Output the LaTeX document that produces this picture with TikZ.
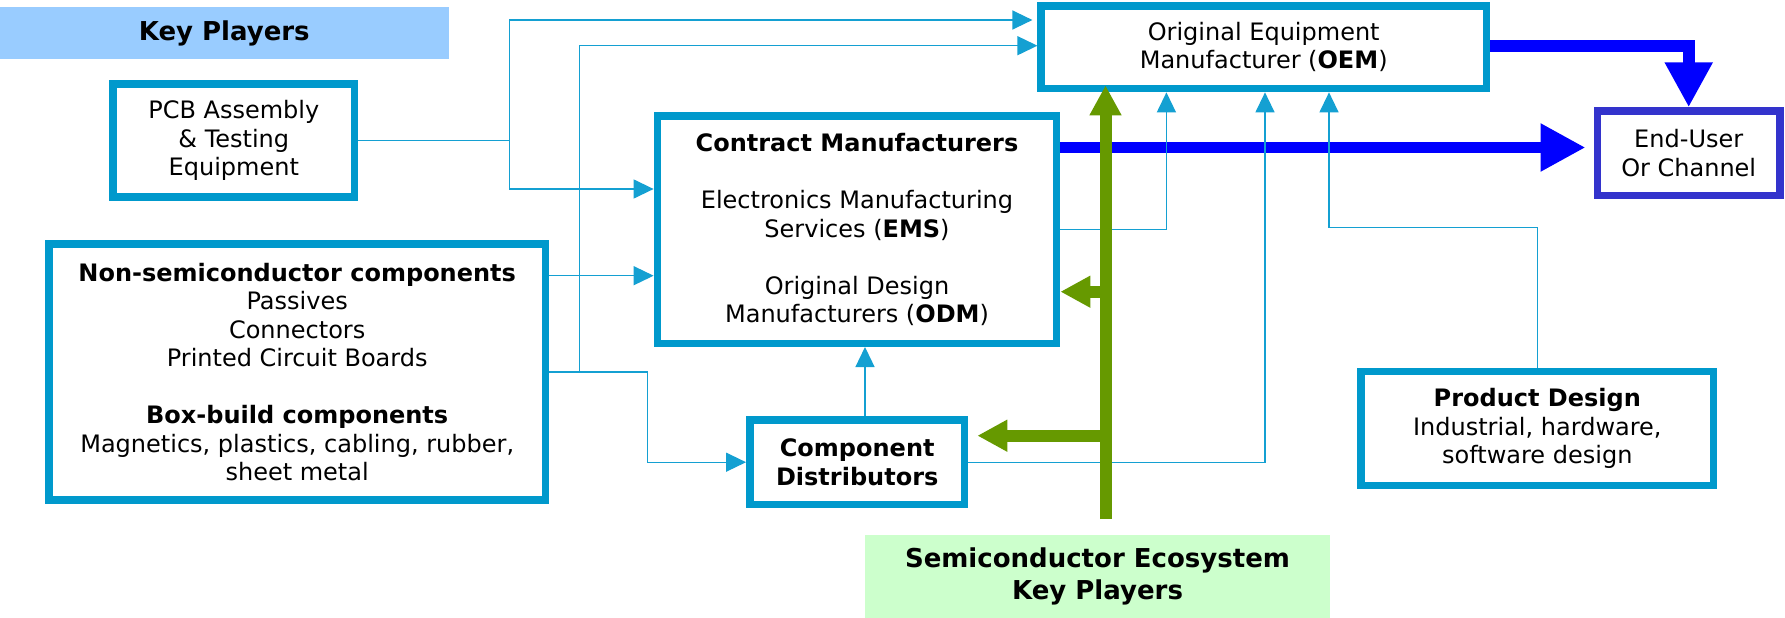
\documentclass[tikz,border=0pt]{standalone}
\usepackage{fontspec}
\setmainfont{DejaVu Sans}
\usetikzlibrary{arrows.meta}

\definecolor{boxblue}{RGB}{0,153,204}
\definecolor{linkblue}{RGB}{20,160,210}
\definecolor{bandblue}{RGB}{153,204,255}
\definecolor{bandgreen}{RGB}{204,255,204}
\definecolor{semigreen}{RGB}{102,153,0}
\definecolor{flowblue}{RGB}{0,0,255}
\definecolor{userblue}{RGB}{51,51,204}

\newcommand\boxfont{\fontsize{24}{28.5}\selectfont}
\newcommand\bandfont{\fontsize{26}{32.7}\selectfont\bfseries}

\tikzset{
  playerbox/.style={draw=boxblue, line width=7.5pt, fill=white, align=center,
    inner sep=0pt, font=\boxfont},
  titleband/.style={draw=none, inner sep=0pt, align=center, font=\bandfont},
  link/.style={draw=linkblue, line width=1.3pt},
  linkarrow/.style={link, -{Triangle[length=20pt,width=19pt]}},
  flow/.style={draw=flowblue, line width=11.7pt, line join=miter,
    -{Triangle[length=45pt,width=45pt]}},
  semiflow/.style={draw=semigreen, line width=12pt,
    -{Triangle[length=30pt,width=30pt]}},
}

\begin{document}
\begin{tikzpicture}[x=1pt,y=-1pt]
  \fill[white] (0,0) rectangle (1785,618);
  \useasboundingbox (0,0) rectangle (1785,618);

  % title bands
  \node[titleband, fill=bandblue, minimum width=448.5pt, minimum height=51.7pt]
    (kp) at (224.25,33.15) {Key Players};
  \node[titleband, fill=bandgreen, minimum width=465pt, minimum height=83pt]
    (semi) at (1097.5,576.5) {Semiconductor Ecosystem\\Key Players};

  % players
  \node[playerbox, minimum width=241.3pt, minimum height=113.2pt]
    (pcb) at (233.8,140.4) {PCB Assembly\\\& Testing\\Equipment};
  \node[playerbox, minimum width=496.4pt, minimum height=256.2pt]
    (ns) at (297.2,371.9) {\textbf{Non-semiconductor components}\\Passives\\Connectors\\Printed Circuit Boards\\[28.5pt]
      \textbf{Box-build components}\\Magnetics, plastics, cabling, rubber,\\sheet metal};
  \node[playerbox, minimum width=399.3pt, minimum height=227.5pt]
    (cm) at (857,229.5) {\textbf{Contract Manufacturers}\\[28.5pt]Electronics Manufacturing\\Services (\textbf{EMS})\\[28.5pt]
      Original Design\\Manufacturers (\textbf{ODM})};
  \node[playerbox, minimum width=445.1pt, minimum height=82.8pt]
    (oem) at (1263.7,47.2) {Original Equipment\\Manufacturer (\textbf{OEM})};
  \node[playerbox, draw=userblue, minimum width=182.8pt, minimum height=84.5pt]
    (eu) at (1688.7,153.3) {End-User\\Or Channel};
  \node[playerbox, font=\boxfont\bfseries, minimum width=214.8pt, minimum height=84.8pt]
    (cd) at (857.2,462.2) {Component\\Distributors};
  \node[playerbox, minimum width=352.5pt, minimum height=113.8pt]
    (pd) at (1537.3,428.4) {\textbf{Product Design}\\Industrial, hardware,\\software design};

  % routing points
  \coordinate (ja) at (509.7,20);
  \coordinate (jb) at (509.7,189);
  \coordinate (yA) at (0,275.7);
  \coordinate (kv) at (579.7,45.7);
  \coordinate (kx) at (647.3,0);
  \coordinate (cdx) at (865,0);
  \coordinate (ox1) at (1166.4,0);
  \coordinate (ox2) at (1265,0);
  \coordinate (pdb) at (1329,227.7);
  \coordinate (gbot) at (1105.5,519);
  \coordinate (gcm) at (1105.5,291.7);
  \coordinate (gcd) at (1105.5,435.7);
  \coordinate (ymain) at (0,147.5);
  \coordinate (ytop) at (0,46.2);

  % main product flow to the end user
  \draw[flow, shorten >=8pt] (cm.east |- ymain) -- (eu.west |- ymain);
  \draw[flow] (oem.east |- ytop) -| (eu.north);

  % supply links
  \draw[link] (pcb.east) -- (pcb.east -| ja);
  \draw[linkarrow, shorten >=5pt] (ja |- pcb.east) -- (ja) -- (ja -| oem.west);
  \draw[linkarrow] (ja |- pcb.east) -- (jb) -- (jb -| cm.west);
  \draw[linkarrow] (ns.east |- yA) -- (cm.west |- yA);
  \draw[linkarrow] (ns.east) -- (ns.east -| kx) |- (cd.west);
  \draw[linkarrow] (kv |- ns.east) -- (kv) -- (kv -| oem.west);
  \draw[linkarrow] (cd.north -| cdx) -- (cm.south -| cdx);
  \draw[linkarrow] (cd.east) -| (oem.south -| ox2);
  \draw[linkarrow] (cm.east) -| (oem.south -| ox1);
  \draw[linkarrow] (pd.north) |- (pdb) -- (pdb |- oem.south);

  % semiconductor supply
  \draw[semiflow, shorten >=-7pt] (gbot) -- (gbot |- oem.south);
  \draw[semiflow] (gcm) -- (gcm -| cm.east);
  \draw[semiflow, shorten >=9pt] (gcd) -- (gcd -| cd.east);
\end{tikzpicture}
\end{document}
